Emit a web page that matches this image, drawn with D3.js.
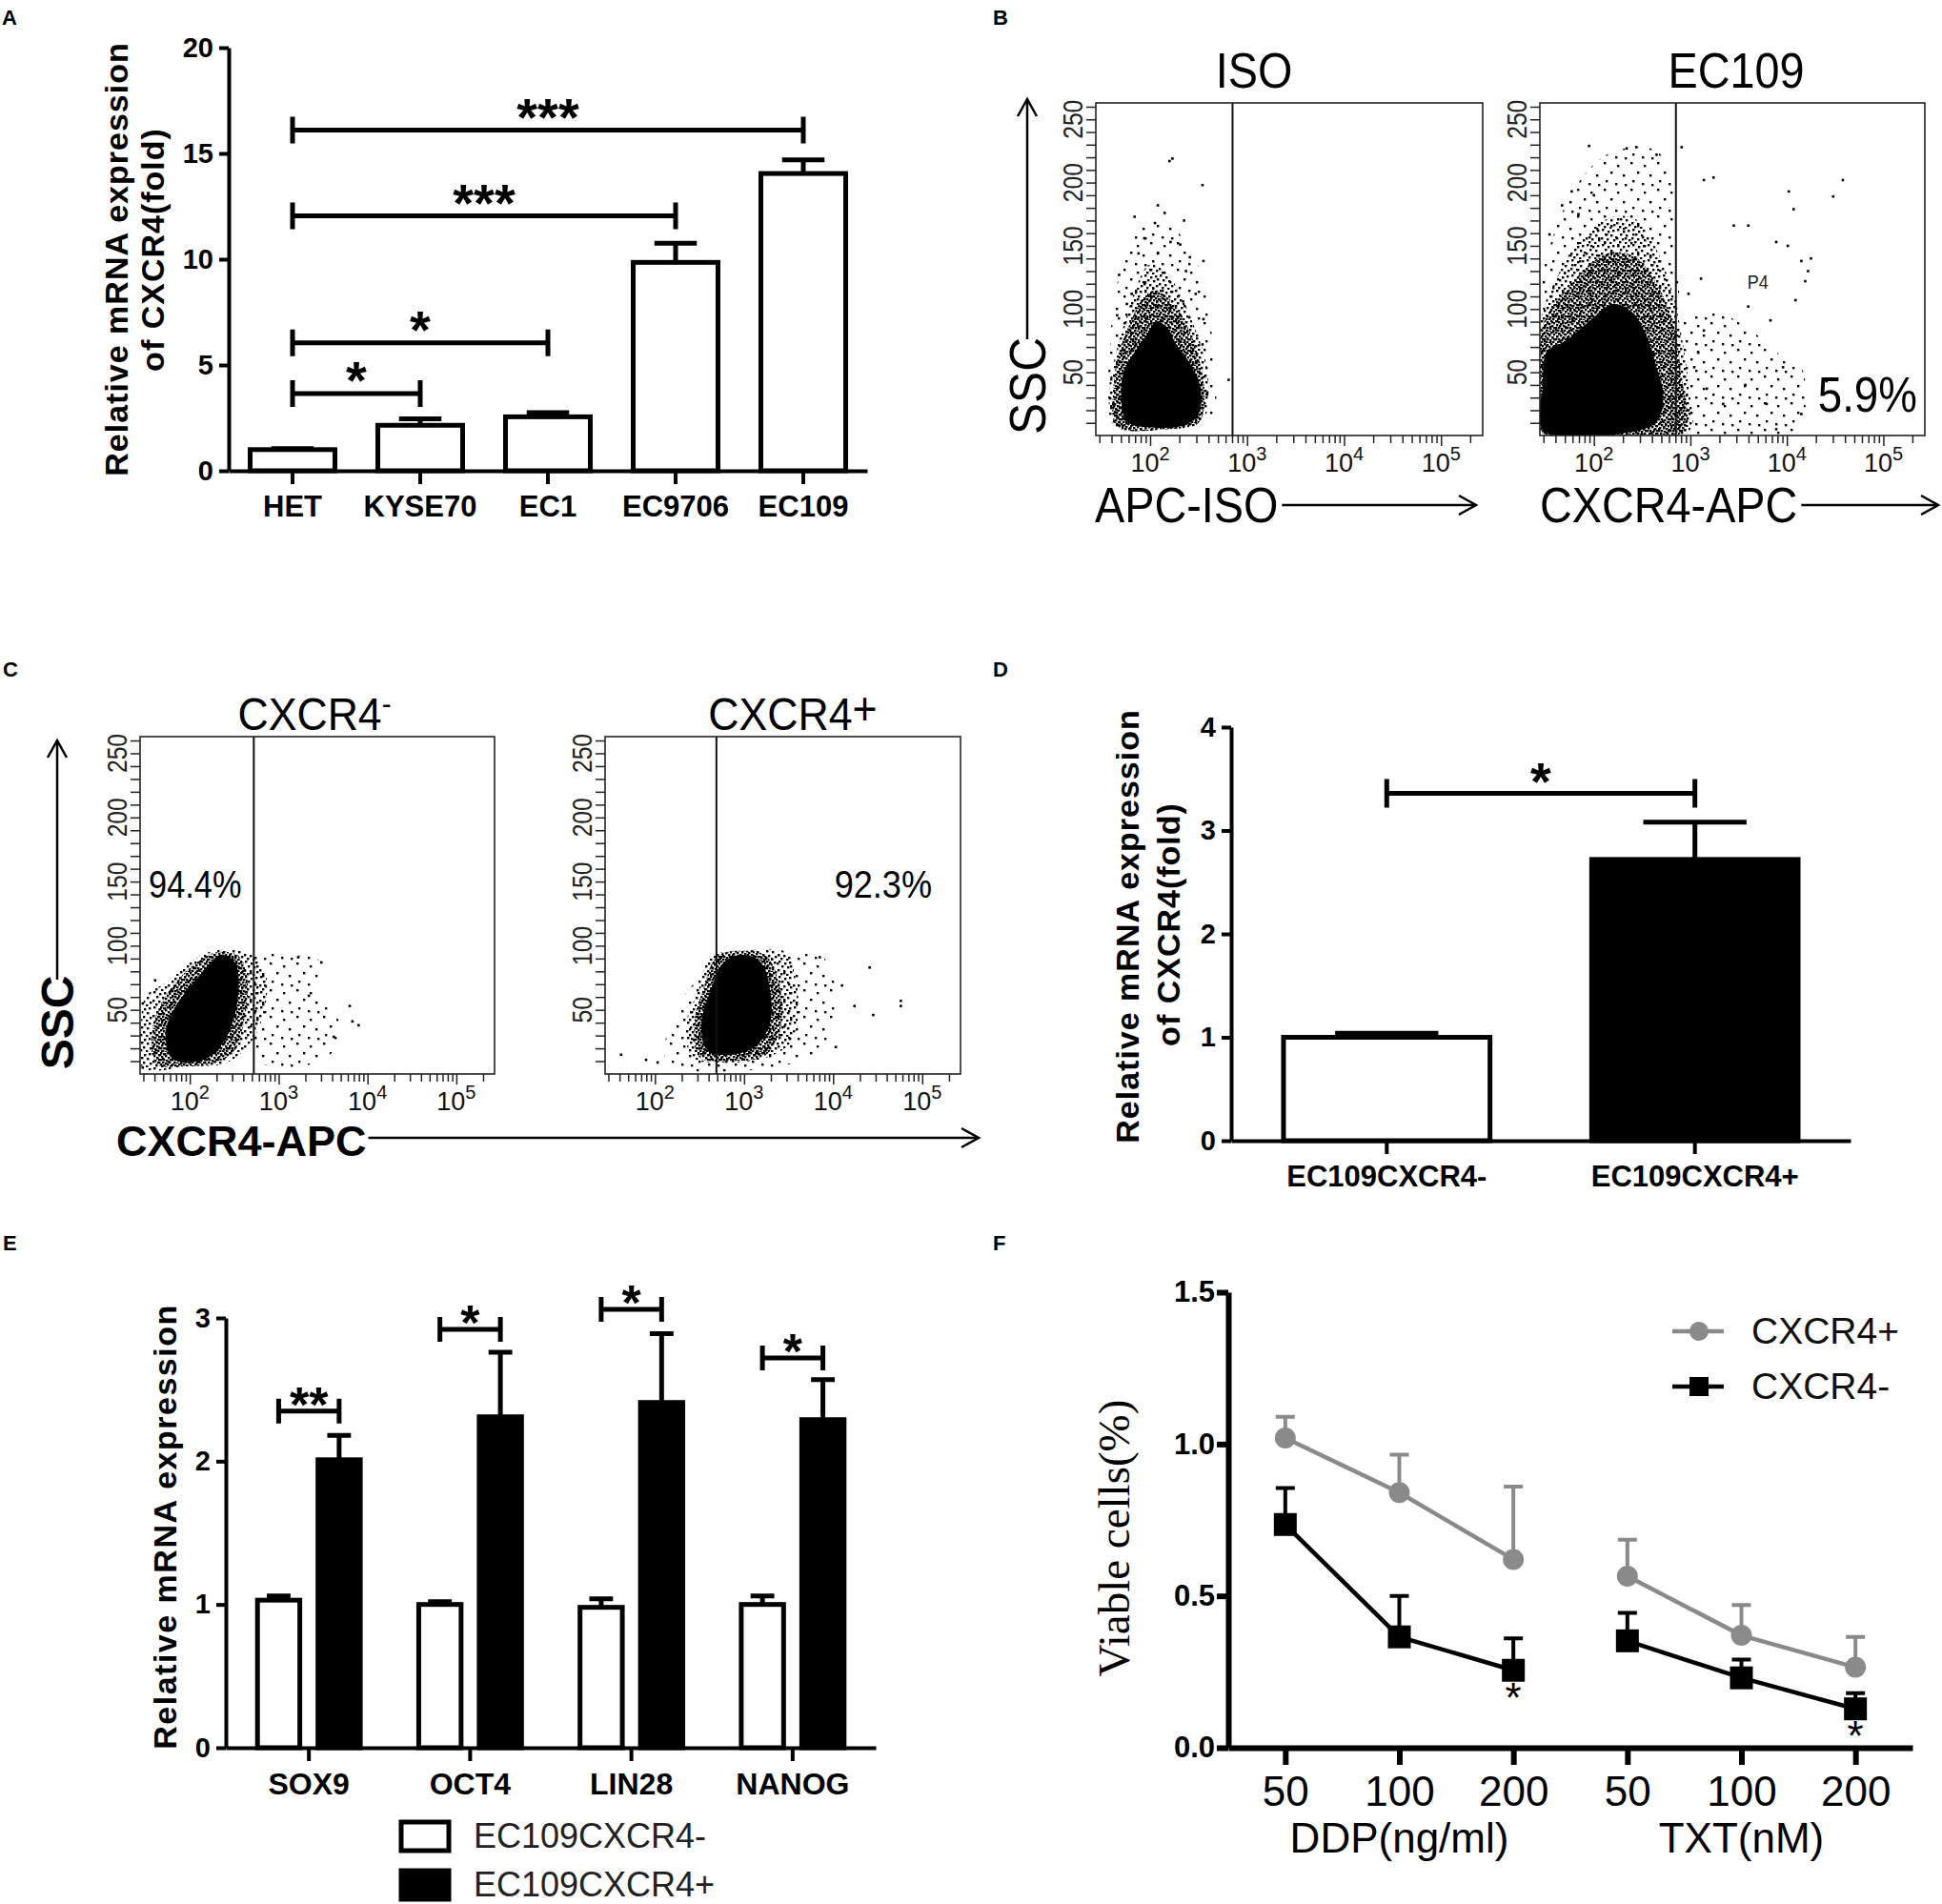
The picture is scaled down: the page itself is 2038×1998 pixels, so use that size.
<!DOCTYPE html>
<html>
<head>
<meta charset="utf-8">
<script src="https://cdn.jsdelivr.net/npm/d3@7"></script>
<style>
  body { margin: 0; background: #fff; }
  svg text { font-family: "Liberation Sans", Arial, Helvetica, sans-serif; }
</style>
</head>
<body>
<script>
// ---------------- data ----------------
// A: CXCR4 mRNA in ESCC cell lines
var cellLines = ['HET', 'KYSE70', 'EC1', 'EC9706', 'EC109'];
var cxcr4Fold = [1.0, 2.15, 2.55, 9.85, 14.05];
var cxcr4FoldErr = [0.05, 0.3, 0.2, 0.9, 0.65];
var aPairs = [['HET', 'KYSE70'], ['HET', 'EC1'], ['HET', 'EC9706'], ['HET', 'EC109']];
var aPairLevel = [3.65, 6.05, 12.05, 16.1];
var aPairStars = ['*', '*', '***', '***'];

// D: sorted cells
var sortedGroups = ['EC109CXCR4-', 'EC109CXCR4+'];
var sortedFold = [1.0, 2.72];
var sortedFoldErr = [0.04, 0.36];
var dPairLevel = 3.36;

// E: stemness genes
var stemGenes = ['SOX9', 'OCT4', 'LIN28', 'NANOG'];
var stemNeg = [1.03, 1.00, 0.98, 1.00];
var stemNegErr = [0.03, 0.02, 0.06, 0.06];
var stemPos = [2.01, 2.31, 2.41, 2.29];
var stemPosErr = [0.17, 0.45, 0.48, 0.28];
var stemPairLevel = [2.35, 2.92, 3.06, 2.72];
var stemStars = ['**', '*', '*', '*'];
var stemLegend = ['EC109CXCR4-', 'EC109CXCR4+'];

// F: viability
var doseLabels = ['50', '100', '200', '50', '100', '200'];
var drugNames = ['DDP(ng/ml)', 'TXT(nM)'];
var viablePos = [1.02, 0.84, 0.62, 0.565, 0.37, 0.265];
var viablePosErr = [0.07, 0.125, 0.24, 0.12, 0.10, 0.10];
var viableNeg = [0.735, 0.365, 0.255, 0.352, 0.23, 0.128];
var viableNegErr = [0.12, 0.135, 0.105, 0.092, 0.06, 0.052];
var viableStars = ['', '', '*', '', '', '*'];

// B / C: flow plots, x = log10(APC), y = SSC
var flowDecades = [1.44, 5.43];
var flowSsc = [0, 263];
var flowGates = [2.85, 2.85, 2.72, 2.69];

var isoCore = [[1.76,11],[1.70,31],[1.73,51],[1.84,66],[1.97,80],[2.06,90],[2.17,86],[2.27,72],[2.41,57],[2.52,37],[2.50,17],[2.34,8],[2.02,6.5]];
var isoDense = [[1.66,7],[1.62,37],[1.68,66],[1.80,90],[1.92,108],[2.05,115],[2.20,108],[2.36,90],[2.50,62],[2.56,33],[2.50,10],[2.15,5]];
var isoHalo = [[1.63,8],[1.58,37],[1.65,66],[1.76,95],[1.86,118],[1.99,135],[2.15,130],[2.31,112],[2.44,89],[2.57,60],[2.60,31],[2.54,11],[2.21,5]];
var isoSparse = [[[1.60,10],[1.58,60],[1.66,120],[1.85,160],[2.10,170],[2.40,150],[2.58,110],[2.65,60],[2.62,15]]];
var isoDots = [[2.20,217],[2.23,219],[2.54,198],[2.08,182],[2.15,176],[2.35,170],[1.84,173],[2.05,168],[1.94,156],[2.21,153],[2.31,151],[2.08,144],[2.41,141],[2.55,138],[1.88,144],[1.68,127],[2.37,130],[1.95,121],[1.81,112],[2.47,112],[1.76,104],[2.34,106],[1.66,95],[2.55,92],[2.54,72],[2.81,44],[2.59,34],[1.62,25],[1.66,14],[2.47,14]];

var ecCore = [[1.48,4],[1.47,40],[1.51,66],[1.71,75],[1.93,89],[2.20,104],[2.39,98],[2.55,78],[2.65,54],[2.72,31],[2.65,11],[2.46,4]];
var ecDense = [[1.45,3],[1.45,80],[1.55,100],[1.75,118],[1.95,135],[2.20,145],[2.45,140],[2.65,120],[2.82,90],[2.90,50],[2.92,3]];
var ecHalo = [[1.45,3],[1.45,92],[1.61,124],[1.87,156],[2.20,173],[2.46,170],[2.65,147],[2.82,112],[2.91,78],[2.98,40],[2.98,3]];
var ecSparse = [
  [[2.88,3],[2.91,89],[3.24,98],[3.63,83],[3.89,66],[4.15,54],[4.09,3]],
  [[1.51,95],[1.67,176],[2.13,222],[2.65,225],[2.82,193],[2.85,141],[2.82,95]]
];
var ecDots = [[1.95,229],[2.34,227],[2.44,228],[2.65,222],[2.91,228],[4.19,122],[4.58,202],[4.48,189],[4.02,193],[4.07,179],[3.14,202],[3.24,204],[3.45,166],[3.60,166],[3.89,153],[4.01,150],[4.15,138],[4.25,140],[4.22,130],[3.60,102],[3.83,91],[4.09,107],[3.96,54],[3.79,25],[4.15,17],[3.89,5],[3.34,25],[3.17,37],[2.98,20],[3.04,54],[3.08,66],[3.14,83],[2.98,112],[3.11,124],[1.77,193],[1.67,182],[1.54,159],[1.84,175],[2.0,190],[4.41,43],[3.57,40]];

var negCore = [[1.79,13],[1.73,34],[1.86,55],[2.04,71],[2.21,85],[2.35,93],[2.51,87],[2.55,69],[2.51,47],[2.39,26],[2.21,13],[2.00,9]];
var negDense = [[1.62,8],[1.58,35],[1.70,58],[1.90,76],[2.10,88],[2.30,95],[2.55,92],[2.65,72],[2.62,45],[2.50,18],[2.25,8],[1.95,6]];
var negHalo = [[1.47,5],[1.45,39],[1.51,61],[1.72,71],[2.00,87],[2.21,95],[2.42,97],[2.70,93],[2.85,79],[2.85,53],[2.70,26],[2.42,9],[2.00,6]];
var negSparse = [[[2.70,93],[3.13,93],[3.48,87],[3.41,66],[3.69,39],[3.55,13],[2.85,7],[2.70,26]]];
var negDots = [[3.80,53],[3.90,38],[3.83,41],[3.48,87],[3.22,91],[1.47,55],[1.47,5],[1.61,73],[3.34,61],[3.62,29]];

var posCore = [[2.59,18],[2.52,39],[2.63,66],[2.77,87],[2.98,93],[3.19,87],[3.29,66],[3.29,39],[3.12,21],[2.84,15]];
var posDense = [[2.50,13],[2.44,39],[2.55,68],[2.70,92],[2.98,96],[3.25,92],[3.40,68],[3.42,39],[3.25,15],[2.84,10]];
var posHalo = [[2.42,13],[2.35,39],[2.49,66],[2.63,93],[2.84,95],[3.47,95],[3.57,77],[3.61,53],[3.54,26],[3.26,13],[2.77,9]];
var posSparse = [[[2.14,9],[2.24,50],[2.56,77],[3.54,93],[3.89,91],[4.03,61],[3.89,21],[3.47,7]]];
var posDots = [[1.62,15],[1.90,11],[2.03,9],[4.41,83],[4.45,46],[4.76,57],[4.76,53],[4.24,53],[4.03,21],[3.85,91],[4.10,69]];

// ---------------- drawing ----------------
var svg = d3.select('body').append('svg').attr('width', 2038).attr('height', 1998);
var defs = svg.append('defs');

// stipple textures for the flow clouds
function stipple(id, size, spots) {
  var p = defs.append('pattern').attr('id', id).attr('patternUnits', 'userSpaceOnUse')
    .attr('width', size).attr('height', size);
  spots.forEach(function (s) {
    p.append('rect').attr('x', s[0]).attr('y', s[1]).attr('width', 2.4).attr('height', 2.4).attr('fill', '#000');
  });
}
stipple('dotsHeavy', 12, [[0,0],[3,1],[7,0],[10,2],[1,4],[5,3],[8,5],[0,7],[3,7],[6,8],[10,7],[2,10],[5,11],[9,10]]);
stipple('dotsMid', 16, [[1,0],[7,2],[12,1],[4,5],[10,6],[0,9],[6,10],[13,11],[3,13],[9,14]]);
stipple('dotsSparse', 28, [[3,2],[17,5],[10,12],[23,15],[5,21],[15,24],[25,25]]);

function txt(g, x, y, s, o) {
  o = o || {};
  var tf = 'translate(' + x + ',' + y + ')';
  if (o.rot) tf += ' rotate(' + o.rot + ')';
  if (o.sx) tf += ' scale(' + o.sx + ',1)';
  var t = g.append('text').attr('transform', tf)
    .attr('text-anchor', o.anchor || 'middle')
    .style('font-size', (o.size || 20) + 'px')
    .style('font-weight', o.bold ? 'bold' : 'normal')
    .style('fill', o.fill || '#000');
  if (o.family) t.style('font-family', o.family);
  if (o.ls) t.style('letter-spacing', o.ls + 'px');
  if (s !== '') t.text(s);
  return t;
}

function arrow(g, x1, y1, x2, y2, w) {
  var a = Math.atan2(y2 - y1, x2 - x1), L = 18, S = 10;
  g.append('line').attr('x1', x1).attr('y1', y1).attr('x2', x2).attr('y2', y2)
    .attr('stroke', '#000').attr('stroke-width', w);
  var bx = x2 - L * Math.cos(a), by = y2 - L * Math.sin(a);
  var px = -Math.sin(a) * S, py = Math.cos(a) * S;
  g.append('path').attr('d', 'M' + (bx + px) + ',' + (by + py) + 'L' + x2 + ',' + y2 + 'L' + (bx - px) + ',' + (by - py))
    .attr('fill', 'none').attr('stroke', '#000').attr('stroke-width', w);
}

function sigBracket(g, xa, xb, yv, stars, tick, starSize, lift) {
  g.append('path')
    .attr('d', 'M' + xa + ',' + (yv - tick) + 'V' + (yv + tick) + 'M' + xa + ',' + yv + 'H' + xb +
               'M' + xb + ',' + (yv - tick) + 'V' + (yv + tick))
    .attr('fill', 'none').attr('stroke', '#000').attr('stroke-width', 5);
  txt(g, (xa + xb) / 2, yv - lift + starSize * 0.58, stars, {size: starSize, bold: true});
}

function styleAxis(sel, w, size, bold) {
  sel.selectAll('path, line').attr('stroke', '#000').attr('stroke-width', w);
  sel.selectAll('text').style('font-size', size + 'px').style('font-weight', bold ? 'bold' : 'normal').attr('fill', '#000');
}

// panel letters
[['A', 2, 26], ['B', 1042, 26], ['C', 3, 710], ['D', 1042, 710], ['E', 3, 1312], ['F', 1042, 1312]].forEach(function (p) {
  txt(svg, p[1], p[2], p[0], {size: 22, bold: true, anchor: 'start'});
});

// ---------- A ----------
(function () {
  var g = svg.append('g');
  var x = d3.scaleBand().domain(cellLines).range([240, 910]).paddingInner(0.336).paddingOuter(0.168);
  var y = d3.scaleLinear().domain([0, 20]).range([494, 50]);
  var bw = x.bandwidth();
  g.selectAll('rect.bar').data(cellLines).join('rect')
    .attr('x', function (d) { return x(d); }).attr('width', bw)
    .attr('y', function (d, i) { return y(cxcr4Fold[i]); })
    .attr('height', function (d, i) { return y(0) - y(cxcr4Fold[i]); })
    .attr('fill', '#fff').attr('stroke', '#000').attr('stroke-width', 5);
  g.selectAll('path.err').data(cellLines).join('path')
    .attr('d', function (d, i) {
      var cx = x(d) + bw / 2, t = y(cxcr4Fold[i] + cxcr4FoldErr[i]);
      return 'M' + cx + ',' + y(cxcr4Fold[i]) + 'V' + t + 'M' + (cx - bw / 4) + ',' + t + 'H' + (cx + bw / 4);
    })
    .attr('fill', 'none').attr('stroke', '#000').attr('stroke-width', 5);
  var ax = g.append('g').attr('transform', 'translate(240,0)')
    .call(d3.axisLeft(y).tickValues([0, 5, 10, 15, 20]).tickSize(10).tickSizeOuter(0).tickPadding(6));
  styleAxis(ax, 4, 29, true);
  var bx = g.append('g').attr('transform', 'translate(0,494)')
    .call(d3.axisBottom(x).tickSize(14).tickSizeOuter(0).tickPadding(12));
  styleAxis(bx, 4, 31, true);
  aPairs.forEach(function (p, i) {
    sigBracket(g, x(p[0]) + bw / 2, x(p[1]) + bw / 2, y(aPairLevel[i]), aPairStars[i], 14, 56, 27);
  });
  txt(g, 134, 272, 'Relative mRNA expression', {rot: -90, size: 34, bold: true, ls: 1});
  txt(g, 172, 262, 'of CXCR4(fold)', {rot: -90, size: 34, bold: true, ls: 1});
})();

// ---------- flow plots (B, C) ----------
function drawFlow(box, core, dense, halo, sparse, dots, gate) {
  var x = d3.scaleLinear().domain(flowDecades).range([box[0], box[1]]);
  var y = d3.scaleLinear().domain(flowSsc).range([box[3], box[2]]);
  var g = svg.append('g');
  var cid = 'clip' + box[0];
  g.append('clipPath').attr('id', cid).append('rect')
    .attr('x', box[0]).attr('y', box[2]).attr('width', box[1] - box[0]).attr('height', box[3] - box[2]);
  var cloud = g.append('g').attr('clip-path', 'url(#' + cid + ')');
  var shape = d3.line().x(function (d) { return x(d[0]); }).y(function (d) { return y(d[1]); })
    .curve(d3.curveCatmullRomClosed.alpha(0.5));
  sparse.forEach(function (poly) { cloud.append('path').attr('d', shape(poly)).attr('fill', 'url(#dotsSparse)'); });
  cloud.append('path').attr('d', shape(halo)).attr('fill', 'url(#dotsMid)');
  cloud.append('path').attr('d', shape(dense)).attr('fill', 'url(#dotsHeavy)');
  cloud.append('path').attr('d', shape(core)).attr('fill', '#000');
  cloud.selectAll('rect.dot').data(dots).join('rect')
    .attr('x', function (d) { return x(d[0]) - 1.3; }).attr('y', function (d) { return y(d[1]) - 1.3; })
    .attr('width', 2.6).attr('height', 2.6).attr('fill', '#000');
  g.append('line').attr('x1', x(gate)).attr('x2', x(gate)).attr('y1', box[2]).attr('y2', box[3])
    .attr('stroke', '#111').attr('stroke-width', 2);
  g.append('rect').attr('x', box[0]).attr('y', box[2]).attr('width', box[1] - box[0]).attr('height', box[3] - box[2])
    .attr('fill', 'none').attr('stroke', '#222').attr('stroke-width', 1.6);
  // SSC ticks
  var ya = g.append('g').attr('transform', 'translate(' + box[0] + ',0)')
    .call(d3.axisLeft(y).tickValues(d3.range(10, 261, 10)).tickSize(10).tickFormat(''));
  ya.select('.domain').remove();
  ya.selectAll('line').attr('stroke', '#222').attr('stroke-width', 1.5);
  [50, 100, 150, 200, 250].forEach(function (v) {
    txt(g, box[0] - 14, y(v), String(v), {rot: -90, size: 29, sx: 0.85, fill: '#222'});
  });
  // log ticks
  var minors = [];
  for (var n = 1; n <= 5; n++) for (var k = 2; k <= 9; k++) {
    var v = n + Math.log10(k);
    if (v > flowDecades[0] && v < flowDecades[1]) minors.push(v);
  }
  var xm = g.append('g').attr('transform', 'translate(0,' + box[3] + ')')
    .call(d3.axisBottom(x).tickValues(minors).tickSize(8).tickFormat(''));
  var xM = g.append('g').attr('transform', 'translate(0,' + box[3] + ')')
    .call(d3.axisBottom(x).tickValues([2, 3, 4, 5]).tickSize(11).tickFormat(''));
  [xm, xM].forEach(function (s) {
    s.select('.domain').remove();
    s.selectAll('line').attr('stroke', '#222').attr('stroke-width', 1.5);
  });
  [2, 3, 4, 5].forEach(function (d) {
    var t = txt(g, x(d), box[3] + 38, '', {size: 27, fill: '#111'});
    t.append('tspan').text('10');
    t.append('tspan').attr('dy', -12).style('font-size', '20px').text(d);
  });
  return {x: x, y: y, g: g};
}

// ---------- B ----------
(function () {
  drawFlow([1150, 1556, 108, 457], isoCore, isoDense, isoHalo, isoSparse, isoDots, flowGates[0]);
  var ec = drawFlow([1616, 2020, 108, 457], ecCore, ecDense, ecHalo, ecSparse, ecDots, flowGates[1]);
  var g = svg.append('g');
  txt(g, 1316, 92, 'ISO', {size: 52, sx: 0.9});
  txt(g, 1822, 92, 'EC109', {size: 52, sx: 0.9});
  txt(g, ec.x(3.70), ec.y(116), 'P4', {size: 20, sx: 0.9, fill: '#222'});
  txt(g, 2012, 432, '5.9%', {size: 52, sx: 0.88, anchor: 'end'});
  var t1 = txt(g, 1149, 548, 'APC-ISO', {size: 52, sx: 0.9, anchor: 'start'});
  arrow(g, 1149 + t1.node().getComputedTextLength() * 0.9 + 4, 530, 1549, 530, 2.5);
  var t2 = txt(g, 1616, 548, 'CXCR4-APC', {size: 52, sx: 0.9, anchor: 'start'});
  arrow(g, 1616 + t2.node().getComputedTextLength() * 0.9 + 4, 530, 2034, 530, 2.5);
  txt(g, 1097, 405, 'SSC', {size: 54, sx: 0.92, rot: -90});
  arrow(g, 1078, 356, 1078, 104, 2.5);
})();

// ---------- C ----------
(function () {
  drawFlow([147, 519, 773, 1127], negCore, negDense, negHalo, negSparse, negDots, flowGates[2]);
  drawFlow([635, 1008, 773, 1127], posCore, posDense, posHalo, posSparse, posDots, flowGates[3]);
  var g = svg.append('g');
  var t = txt(g, 330, 766, '', {size: 48, sx: 0.93});
  t.append('tspan').text('CXCR4');
  t.append('tspan').attr('dy', -17).style('font-size', '32px').text('-');
  var t2 = txt(g, 832, 766, '', {size: 48, sx: 0.93});
  t2.append('tspan').text('CXCR4');
  t2.append('tspan').attr('dy', -6).text('+');
  txt(g, 156, 942, '94.4%', {size: 40, sx: 0.86, anchor: 'start'});
  txt(g, 978, 942, '92.3%', {size: 41, sx: 0.88, anchor: 'end'});
  var t3 = txt(g, 122, 1213, 'CXCR4-APC', {size: 45, bold: true, anchor: 'start'});
  arrow(g, 122 + t3.node().getComputedTextLength() + 2, 1194, 1027, 1194, 2.5);
  txt(g, 77, 1073, 'SSC', {size: 48, bold: true, rot: -90});
  arrow(g, 60, 1028, 60, 777, 2.5);
})();

// ---------- D ----------
(function () {
  var g = svg.append('g');
  var x = d3.scaleBand().domain(sortedGroups).range([1292, 1942]).paddingInner(0.33).paddingOuter(0.17);
  var y = d3.scaleLinear().domain([0, 4]).range([1197, 763]);
  var bw = x.bandwidth();
  g.selectAll('path.err').data(sortedGroups).join('path')
    .attr('d', function (d, i) {
      var cx = x(d) + bw / 2, t = y(sortedFold[i] + sortedFoldErr[i]);
      return 'M' + cx + ',' + y(sortedFold[i]) + 'V' + t + 'M' + (cx - bw / 4) + ',' + t + 'H' + (cx + bw / 4);
    })
    .attr('fill', 'none').attr('stroke', '#000').attr('stroke-width', 5);
  g.selectAll('rect.bar').data(sortedGroups).join('rect')
    .attr('x', function (d) { return x(d); }).attr('width', bw)
    .attr('y', function (d, i) { return y(sortedFold[i]); })
    .attr('height', function (d, i) { return y(0) - y(sortedFold[i]); })
    .attr('fill', function (d, i) { return i ? '#000' : '#fff'; })
    .attr('stroke', '#000').attr('stroke-width', 5);
  var ax = g.append('g').attr('transform', 'translate(1292,0)')
    .call(d3.axisLeft(y).ticks(4).tickSize(10).tickSizeOuter(0).tickPadding(6));
  styleAxis(ax, 4, 29, true);
  var bx = g.append('g').attr('transform', 'translate(0,1197)')
    .call(d3.axisBottom(x).tickSize(14).tickSizeOuter(0).tickPadding(12));
  styleAxis(bx, 4, 31, true);
  sigBracket(g, x(sortedGroups[0]) + bw / 2, x(sortedGroups[1]) + bw / 2, y(dPairLevel), '*', 15, 56, 26);
  txt(g, 1195, 972, 'Relative mRNA expression', {rot: -90, size: 34, bold: true, ls: 1});
  txt(g, 1238, 970, 'of CXCR4(fold)', {rot: -90, size: 34, bold: true, ls: 1});
})();

// ---------- E ----------
(function () {
  var g = svg.append('g');
  var x0 = d3.scaleBand().domain(stemGenes).range([237, 919]).paddingInner(0.25).paddingOuter(0.14);
  var x1 = d3.scaleBand().domain(['neg', 'pos']).range([0, x0.bandwidth()]).paddingInner(0.3).paddingOuter(0.15);
  var y = d3.scaleLinear().domain([0, 3]).range([1834, 1383]);
  var bw = x1.bandwidth();
  var series = [['neg', stemNeg, stemNegErr, '#fff'], ['pos', stemPos, stemPosErr, '#000']];
  series.forEach(function (s) {
    g.selectAll('path.err-' + s[0]).data(stemGenes).join('path')
      .attr('d', function (d, i) {
        var cx = x0(d) + x1(s[0]) + bw / 2, t = y(s[1][i] + s[2][i]);
        return 'M' + cx + ',' + y(s[1][i]) + 'V' + t + 'M' + (cx - bw * 0.28) + ',' + t + 'H' + (cx + bw * 0.28);
      })
      .attr('fill', 'none').attr('stroke', '#000').attr('stroke-width', 5);
    g.selectAll('rect.bar-' + s[0]).data(stemGenes).join('rect')
      .attr('x', function (d) { return x0(d) + x1(s[0]); }).attr('width', bw)
      .attr('y', function (d, i) { return y(s[1][i]); })
      .attr('height', function (d, i) { return y(0) - y(s[1][i]); })
      .attr('fill', s[3]).attr('stroke', '#000').attr('stroke-width', 5);
  });
  var ax = g.append('g').attr('transform', 'translate(237,0)')
    .call(d3.axisLeft(y).ticks(3).tickSize(10).tickSizeOuter(0).tickPadding(6));
  styleAxis(ax, 4, 29, true);
  var bx = g.append('g').attr('transform', 'translate(0,1834)')
    .call(d3.axisBottom(x0).tickSize(14).tickSizeOuter(0).tickPadding(12));
  styleAxis(bx, 4, 32, true);
  stemGenes.forEach(function (d, i) {
    sigBracket(g, x0(d) + x1('neg') + bw / 2, x0(d) + x1('pos') + bw / 2, y(stemPairLevel[i]), stemStars[i], 13, 52, 19);
  });
  txt(g, 185, 1602, 'Relative mRNA expression', {rot: -90, size: 34, bold: true, ls: 1.5});
  stemLegend.forEach(function (name, i) {
    g.append('rect').attr('x', 421).attr('y', 1912 + i * 51).attr('width', 50).attr('height', 30)
      .attr('fill', i ? '#000' : '#fff').attr('stroke', '#000').attr('stroke-width', 5);
    txt(g, 497, 1939 + i * 51, name, {size: 36, anchor: 'start', fill: '#222'});
  });
})();

// ---------- F ----------
(function () {
  var g = svg.append('g');
  var x = d3.scalePoint().domain(d3.range(doseLabels.length)).range([1289, 2007]).padding(0.5);
  var y = d3.scaleLinear().domain([0, 1.5]).range([1834, 1356]);
  var groups = [[0, 1, 2], [3, 4, 5]];
  var grey = '#8a8a8a';
  var line = d3.line().x(function (d) { return x(d[0]); }).y(function (d) { return y(d[1]); });
  var series = [[viablePos, viablePosErr, grey, 'circle'], [viableNeg, viableNegErr, '#000', 'square']];
  series.forEach(function (s) {
    groups.forEach(function (grp) {
      g.append('path').attr('d', line(grp.map(function (i) { return [i, s[0][i]]; })))
        .attr('fill', 'none').attr('stroke', s[2]).attr('stroke-width', 4.5);
    });
    g.selectAll(null).data(s[0]).join('path')
      .attr('d', function (v, i) {
        var cx = x(i), t = y(v + s[1][i]);
        return 'M' + cx + ',' + y(v) + 'V' + t + 'M' + (cx - 10) + ',' + t + 'H' + (cx + 10);
      })
      .attr('fill', 'none').attr('stroke', s[2]).attr('stroke-width', 4);
    if (s[3] === 'circle') {
      g.selectAll(null).data(s[0]).join('circle')
        .attr('cx', function (v, i) { return x(i); }).attr('cy', function (v) { return y(v); })
        .attr('r', 11).attr('fill', grey);
    } else {
      g.selectAll(null).data(s[0]).join('rect')
        .attr('x', function (v, i) { return x(i) - 12; }).attr('y', function (v) { return y(v) - 12; })
        .attr('width', 24).attr('height', 24).attr('fill', '#000');
    }
  });
  viableStars.forEach(function (s, i) {
    if (s) txt(g, x(i), y(viableNeg[i]) + 44, s, {size: 44});
  });
  var ax = g.append('g').attr('transform', 'translate(1289,0)')
    .call(d3.axisLeft(y).tickValues([0, 0.5, 1.0, 1.5]).tickFormat(d3.format('.1f')).tickSize(12).tickSizeOuter(0).tickPadding(2));
  styleAxis(ax, 6, 31, true);
  var bx = g.append('g').attr('transform', 'translate(0,1834)')
    .call(d3.axisBottom(x).tickSize(18).tickSizeOuter(0).tickFormat(function (i) { return doseLabels[i]; }).tickPadding(12));
  styleAxis(bx, 6, 44, false);
  drugNames.forEach(function (name, k) {
    txt(g, x(groups[k][1]), 1944, name, {size: 44});
  });
  txt(g, 1185, 1614, 'Viable cells(%)', {rot: -90, size: 47, family: '"Liberation Serif", "Times New Roman", serif'});
  var leg = [['CXCR4+', grey, 'circle'], ['CXCR4-', '#000', 'square']];
  leg.forEach(function (l, i) {
    var ly = 1397 + i * 58;
    g.append('line').attr('x1', 1755).attr('x2', 1809).attr('y1', ly).attr('y2', ly).attr('stroke', l[1]).attr('stroke-width', 4.5);
    if (l[2] === 'circle') g.append('circle').attr('cx', 1783).attr('cy', ly).attr('r', 10).attr('fill', l[1]);
    else g.append('rect').attr('x', 1773).attr('y', ly - 10).attr('width', 20).attr('height', 20).attr('fill', l[1]);
    txt(g, 1838, ly + 13, l[0], {size: 39, anchor: 'start', fill: '#111'});
  });
})();
</script>
</body>
</html>
